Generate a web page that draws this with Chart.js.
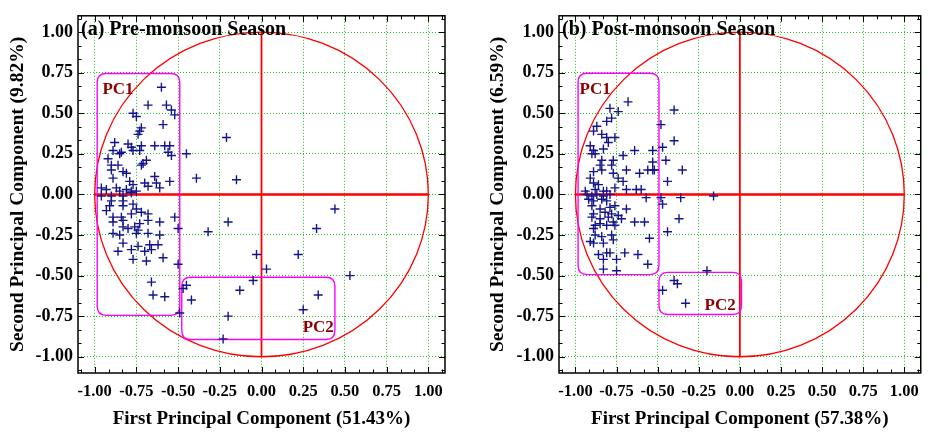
<!DOCTYPE html>
<html>
<head>
<meta charset="utf-8">
<script src="https://cdn.jsdelivr.net/npm/chart.js@4.4.1/dist/chart.umd.min.js"></script>
<style>
html,body{margin:0;padding:0;background:#fff;width:928px;height:433px;overflow:hidden;}
.wrap{position:absolute;top:0;}
</style>
</head>
<body>
<div class="wrap" style="left:0px"><canvas id="c1" width="464" height="433"></canvas></div>
<div class="wrap" style="left:480px"><canvas id="c2" width="448" height="433"></canvas></div>
<script>
// ---------- data ----------
const tickValues = [-1.0, -0.75, -0.5, -0.25, 0, 0.25, 0.5, 0.75, 1.0];
const titles = ["(a) Pre-monsoon Season", "(b) Post-monsoon Season"];
const xTitles = ["First Principal Component (51.43%)", "First Principal Component (57.38%)"];
const yTitles = ["Second Principal Component (9.82%)", "Second Principal Component (6.59%)"];
const groupNames = ["PC1", "PC2"];

// pre-monsoon scores [x, y]
const preX = [-0.60,-0.68,-0.57,-0.54,-0.52,-0.77,-0.75,-0.59,-0.72,-0.73,-0.74,-0.21,-0.88,-0.80,-0.78,-0.72,-0.64,-0.58,-0.55,-0.89,
  -0.84,-0.77,-0.73,-0.56,-0.54,-0.45,-0.92,-0.85,-0.69,-0.71,-0.90,-0.86,-0.90,-0.83,-0.81,-0.72,-0.64,-0.63,-0.89,-0.79,
  -0.77,-0.70,-0.68,-0.61,-0.55,-0.39,-0.15,-0.96,-0.93,-0.87,-0.85,-0.81,-0.78,-0.75,-0.96,-0.90,-0.83,-0.78,-0.83,-0.90,
  -0.91,-0.83,-0.77,-0.75,-0.93,-0.72,-0.68,-0.89,-0.84,-0.78,-0.52,-0.89,-0.83,-0.73,-0.68,-0.61,-0.20,-0.83,-0.80,-0.76,
  -0.74,-0.50,-0.89,-0.85,-0.75,-0.68,-0.61,-0.32,-0.83,-0.74,-0.67,-0.62,-0.86,-0.78,-0.70,-0.66,-0.03,-0.77,-0.69,-0.59,
  -0.50,0.03,-0.05,-0.13,-0.45,-0.47,-0.66,-0.42,-0.65,-0.58,-0.49,-0.20,-0.23,0.44,0.33,0.22,0.53,0.34,0.25];
const preY = [0.66,0.55,0.55,0.52,0.49,0.50,0.48,0.43,0.41,0.39,0.37,0.35,0.32,0.31,0.29,0.30,0.30,0.30,0.30,0.27,
  0.26,0.27,0.27,0.26,0.24,0.25,0.22,0.25,0.21,0.19,0.18,0.18,0.15,0.14,0.13,0.18,0.11,0.07,0.10,0.08,
  0.06,0.07,0.05,0.04,0.08,0.10,0.09,0.04,0.03,0.04,0.02,0.03,0.02,0.02,-0.01,-0.01,-0.01,0.01,-0.04,-0.04,
  -0.07,-0.07,-0.06,-0.09,-0.10,-0.11,-0.12,-0.14,-0.14,-0.12,-0.14,-0.17,-0.16,-0.18,-0.16,-0.17,-0.17,-0.20,-0.21,-0.20,
  -0.22,-0.21,-0.24,-0.25,-0.24,-0.24,-0.25,-0.23,-0.30,-0.32,-0.31,-0.31,-0.35,-0.34,-0.35,-0.34,-0.37,-0.40,-0.41,-0.39,
  -0.43,-0.46,-0.53,-0.59,-0.56,-0.58,-0.54,-0.65,-0.62,-0.63,-0.73,-0.75,-0.89,-0.09,-0.21,-0.37,-0.50,-0.62,-0.71];

// post-monsoon scores [x, y]
const postX = [-0.68,-0.79,-0.74,-0.40,-0.78,-0.81,-0.48,-0.87,-0.89,-0.84,-0.81,-0.76,-0.80,-0.40,-0.91,-0.47,-0.89,-0.83,-0.64,-0.53,
  -0.90,-0.88,-0.71,-0.45,-0.84,-0.77,-0.53,-0.85,-0.78,-0.53,-0.56,-0.52,-0.35,-0.89,-0.84,-0.77,-0.69,-0.61,-0.74,-0.91,
  -0.71,-0.44,-0.89,-0.86,-0.76,-0.69,-0.63,-0.60,-0.94,-0.88,-0.83,-0.81,-0.16,-0.57,-0.48,-0.36,-0.93,-0.90,-0.87,-0.83,
  -0.79,-0.92,-0.89,-0.84,-0.81,-0.47,-0.90,-0.85,-0.79,-0.76,-0.69,-0.89,-0.82,-0.78,-0.74,-0.90,-0.85,-0.80,-0.72,-0.64,
  -0.58,-0.37,-0.88,-0.85,-0.81,-0.77,-0.76,-0.89,-0.44,-0.88,-0.84,-0.78,-0.55,-0.91,-0.89,-0.83,-0.77,-0.86,-0.81,-0.79,
  -0.70,-0.62,-0.83,-0.75,-0.56,-0.83,-0.75,-0.20,-0.40,-0.38,-0.47,-0.33];
const postY = [0.57,0.53,0.51,0.52,0.47,0.45,0.43,0.42,0.39,0.37,0.35,0.35,0.32,0.33,0.30,0.29,0.27,0.28,0.27,0.27,
  0.25,0.25,0.24,0.21,0.21,0.21,0.20,0.18,0.18,0.15,0.15,0.15,0.15,0.14,0.15,0.13,0.15,0.13,0.10,0.10,
  0.08,0.08,0.07,0.06,0.04,0.03,0.03,0.03,0.02,0.03,0.02,0.02,-0.01,-0.02,-0.02,-0.02,0.00,-0.01,0.00,-0.01,
  0.00,-0.03,-0.04,-0.03,-0.04,-0.06,-0.07,-0.09,-0.08,-0.07,-0.09,-0.12,-0.11,-0.12,-0.13,-0.14,-0.15,-0.14,-0.15,-0.17,
  -0.17,-0.15,-0.19,-0.18,-0.19,-0.17,-0.19,-0.21,-0.23,-0.25,-0.26,-0.25,-0.27,-0.29,-0.30,-0.30,-0.28,-0.37,-0.36,-0.36,
  -0.36,-0.37,-0.40,-0.40,-0.43,-0.46,-0.47,-0.47,-0.53,-0.55,-0.59,-0.67];

// group boxes [xMin, xMax, yMin, yMax]
const preBoxes = [[-0.985, -0.49, -0.745, 0.745], [-0.478, 0.44, -0.894, -0.51]];
const postBoxes = [[-0.984, -0.492, -0.494, 0.746], [-0.492, 0.01, -0.74, -0.48]];
// group label centres [x, y]
const preLabelPos = [[-0.86, 0.645], [0.34, -0.82]];
const postLabelPos = [[-0.88, 0.645], [-0.12, -0.687]];

// ---------- styling ----------
const FONT = "'Liberation Serif', 'Times New Roman', serif";
const AXMIN = -1.1, AXMAX = 1.1;

function roundRect(ctx, x0, y0, x1, y1, r) {
  ctx.beginPath();
  ctx.moveTo(x0 + r, y0);
  ctx.lineTo(x1 - r, y0);
  ctx.quadraticCurveTo(x1, y0, x1, y0 + r);
  ctx.lineTo(x1, y1 - r);
  ctx.quadraticCurveTo(x1, y1, x1 - r, y1);
  ctx.lineTo(x0 + r, y1);
  ctx.quadraticCurveTo(x0, y1, x0, y1 - r);
  ctx.lineTo(x0, y0 + r);
  ctx.quadraticCurveTo(x0, y0, x0 + r, y0);
  ctx.closePath();
}

const decor = {
  id: 'decor',
  beforeDatasetsDraw(chart, args, opts) {
    const ctx = chart.ctx, xs = chart.scales.x, ys = chart.scales.y;
    const ca = chart.chartArea;
    ctx.save();
    ctx.beginPath();
    ctx.rect(ca.left, ca.top, ca.right - ca.left, ca.bottom - ca.top);
    ctx.clip();
    // unit circle
    const cx = xs.getPixelForValue(0), cy = ys.getPixelForValue(0);
    const rx = xs.getPixelForValue(1) - cx, ry = cy - ys.getPixelForValue(1);
    ctx.strokeStyle = '#ff0000';
    ctx.lineWidth = 1.3;
    ctx.beginPath();
    ctx.ellipse(cx, cy, rx, ry, 0, 0, Math.PI * 2);
    ctx.stroke();
    // axes lines
    ctx.lineWidth = 2.5;
    ctx.beginPath();
    ctx.moveTo(xs.getPixelForValue(-1), cy);
    ctx.lineTo(xs.getPixelForValue(1), cy);
    ctx.stroke();
    ctx.lineWidth = 1.8;
    ctx.beginPath();
    ctx.moveTo(cx, ys.getPixelForValue(1));
    ctx.lineTo(cx, ys.getPixelForValue(-1));
    ctx.stroke();
    // group boxes
    ctx.strokeStyle = '#ff00ff';
    ctx.lineWidth = 1.4;
    opts.boxes.forEach(b => {
      roundRect(ctx, xs.getPixelForValue(b[0]), ys.getPixelForValue(b[3]),
                xs.getPixelForValue(b[1]), ys.getPixelForValue(b[2]), 9);
      ctx.stroke();
    });
    // group labels
    ctx.fillStyle = '#8b0000';
    ctx.font = "bold 17px " + FONT;
    ctx.textAlign = 'center';
    ctx.textBaseline = 'middle';
    opts.labelPos.forEach((p, i) => {
      ctx.fillText(groupNames[i], xs.getPixelForValue(p[0]), ys.getPixelForValue(p[1]));
    });
    // panel title
    ctx.fillStyle = '#000';
    ctx.font = "bold 20px " + FONT;
    ctx.textAlign = 'left';
    ctx.textBaseline = 'alphabetic';
    ctx.fillText(opts.title, ca.left + 3, ca.top + 19);
    ctx.restore();
  },
  afterDraw(chart) {
    const ctx = chart.ctx, xs = chart.scales.x, ys = chart.scales.y;
    const ca = chart.chartArea;
    ctx.save();
    ctx.strokeStyle = '#000';
    ctx.lineWidth = 1.5;
    ctx.strokeRect(ca.left, ca.top, ca.right - ca.left, ca.bottom - ca.top);
    ctx.lineWidth = 1;
    ctx.beginPath();
    const step = 0.25 / 3;
    for (let k = -13; k <= 13; k++) {
      const v = k * step;
      const major = (k % 3 === 0);
      const len = major ? 6 : 3.5;
      const px = Math.round(xs.getPixelForValue(v)) + 0.5;
      const py = Math.round(ys.getPixelForValue(v)) + 0.5;
      ctx.moveTo(px, ca.bottom); ctx.lineTo(px, ca.bottom - len);
      ctx.moveTo(px, ca.top); ctx.lineTo(px, ca.top + len);
      ctx.moveTo(ca.left, py); ctx.lineTo(ca.left + len, py);
      ctx.moveTo(ca.right, py); ctx.lineTo(ca.right - len, py);
    }
    ctx.stroke();
    ctx.restore();
  }
};

function makeChart(id, xs, ys, idx, boxes, labelPos, yWidth, padRight) {
  const pts = xs.map((x, i) => ({x: x, y: ys[i]}));
  const setTicks = s => { s.ticks = tickValues.map(v => ({value: v})); };
  const gridOpts = {color: '#22bb22', lineWidth: 1, drawTicks: false};
  return new Chart(document.getElementById(id), {
    type: 'scatter',
    data: {datasets: [{
      data: pts,
      pointStyle: 'cross',
      pointRadius: 4.5,
      pointBorderWidth: 1.4,
      borderColor: '#14148c',
      backgroundColor: '#14148c'
    }]},
    options: {
      responsive: false,
      animation: false,
      events: [],
      layout: {padding: {top: 8, right: padRight, left: 0, bottom: 0}},
      plugins: {
        legend: {display: false},
        tooltip: {enabled: false},
        decor: {boxes: boxes, labelPos: labelPos, title: titles[idx]}
      },
      scales: {
        x: {
          type: 'linear', min: AXMIN, max: AXMAX,
          afterBuildTicks: setTicks,
          afterFit: s => { s.height = 60; },
          grid: gridOpts,
          border: {display: false, dash: [1, 2]},
          ticks: {color: '#000', font: {family: FONT, weight: 'bold', size: 16.5}, padding: 9,
                  maxRotation: 0, autoSkip: false, callback: v => v.toFixed(2)},
          title: {display: true, text: xTitles[idx], color: '#000',
                  font: {family: FONT, weight: 'bold', size: 19}, padding: {top: 0, bottom: 3}}
        },
        y: {
          type: 'linear', min: AXMIN, max: AXMAX,
          afterBuildTicks: setTicks,
          afterFit: s => { s.width = yWidth; },
          grid: gridOpts,
          border: {display: false, dash: [1, 2]},
          ticks: {color: '#000', font: {family: FONT, weight: 'bold', size: 18}, padding: 5,
                  autoSkip: false, callback: v => v.toFixed(2)},
          title: {display: true, text: yTitles[idx], color: '#000',
                  font: {family: FONT, weight: 'bold', size: 19.5}, padding: {top: 6, bottom: 0}}
        }
      }
    },
    plugins: [decor]
  });
}

makeChart('c1', preX, preY, 0, preBoxes, preLabelPos, 78, 19);
makeChart('c2', postX, postY, 1, postBoxes, postLabelPos, 79, 4);
</script>
</body>
</html>
